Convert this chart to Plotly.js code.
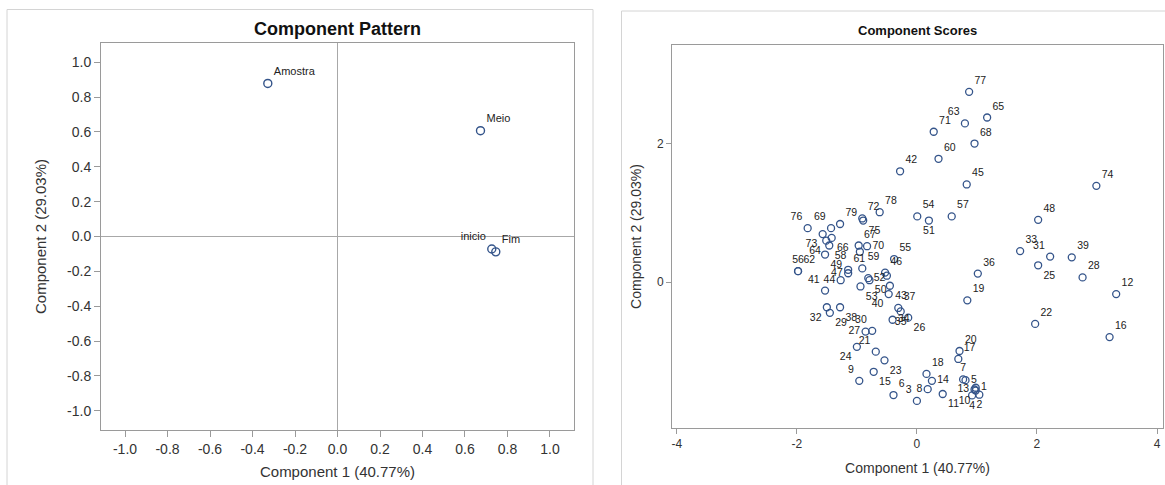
<!DOCTYPE html>
<html>
<head>
<meta charset="utf-8">
<script src="https://cdn.plot.ly/plotly-3.0.1.min.js"></script>
<style>html,body{margin:0;padding:0;background:#fff;}#chart{width:1165px;height:485px;}</style>
</head>
<body>
<div id="chart"></div>
<script>
// ---- Component Pattern (loadings) ----
const patternVars = ['Amostra', 'Meio', 'inicio', 'Fim'];
const patternC1 = [-0.328, 0.673, 0.726, 0.745];
const patternC2 = [0.878, 0.607, -0.072, -0.088];
const patternTicks = [-1.0, -0.8, -0.6, -0.4, -0.2, 0.0, 0.2, 0.4, 0.6, 0.8, 1.0];

// ---- Component Scores (observations) ----
const obsLabels = ['1','2','3','4','5','6','7','8','9','10',
  '11','12','13','14','15','16','17','18','19','20',
  '21','22','23','24','25','26','27','28','29','30',
  '31','32','33','34','35','36','37','38','39','40',
  '41','42','43','44','45','46','47','48','49','50',
  '51','52','53','54','55','56','57','58','59','60',
  '61','62','63','64','65','66','67','68','69','70',
  '71','72','73','74','75','76','77','78','79','',''];
const scoreC1 = [0.98, 1.04, 0.00, 0.92, 0.81, -0.39, 0.77, 0.18, -0.96, 0.98,
  0.43, 3.32, 0.96, 0.25, -0.72, 3.21, 0.69, 0.16, 0.84, 0.71,
  -0.685, 1.97, -0.54, -1.00, 2.02, -0.145, -0.855, 2.76, -1.45, -0.745,
  2.22, -1.50, 1.72, -0.405, -0.27, 1.015, -0.31, -1.28, 2.58, -0.47,
  -1.53, -0.28, -0.45, -1.27, 0.83, -0.53, -1.145, 2.02, -1.53, -0.79,
  0.20, -0.81, -0.94, 0.006, -0.38, -1.98, 0.58, -1.46, -0.91, 0.36,
  -1.145, -1.98, 0.80, -1.51, 1.17, -1.42, -0.97, 0.96, -1.43, -0.83,
  0.28, -0.91, -1.57, 2.99, -0.895, -1.82, 0.87, -0.62, -1.28, -0.95, -0.50];
const scoreC2 = [-1.52, -1.62, -1.71, -1.63, -1.41, -1.625, -1.40, -1.54, -1.42, -1.56,
  -1.61, -0.17, -1.545, -1.42, -1.29, -0.79, -1.105, -1.32, -0.26, -0.99,
  -1.00, -0.60, -1.125, -0.93, 0.245, -0.51, -0.71, 0.07, -0.44, -0.70,
  0.37, -0.36, 0.45, -0.54, -0.42, 0.125, -0.37, -0.36, 0.36, -0.17,
  -0.12, 1.60, -0.05, 0.03, 1.41, 0.14, 0.13, 0.90, 0.40, 0.03,
  0.89, 0.06, -0.06, 0.95, 0.335, 0.16, 0.95, 0.53, 0.20, 1.78,
  0.18, 0.16, 2.29, 0.60, 2.375, 0.64, 0.53, 2.00, 0.78, 0.52,
  2.17, 0.92, 0.695, 1.39, 0.89, 0.78, 2.745, 1.01, 0.84, 0.44, 0.095];
const scoreTicksX = [-4, -2, 0, 2, 4];
const scoreTicksY = [0, 2];

// label placement (style only)
const scoreLabelPos = ['middle right','bottom center','top left','bottom center','middle right','top right','top center','middle left','top left','bottom left',
  'bottom right','top right','middle left','middle right','bottom right','top right','top right','top right','top right','top right',
  'top left','top right','bottom right','bottom left','bottom right','bottom right','middle left','top right','bottom right','top left',
  'top left','bottom left','top right','middle right','bottom center','top right','top right','bottom right','top right','bottom left',
  'top left','top right','bottom right','middle left','top right','top right','middle left','top right','bottom right','bottom right',
  'bottom center','middle right','bottom right','top right','top right','top center','top right','bottom right','top right','top right',
  'top right','top right','top left','bottom left','top right','bottom right','top right','top right','top left','middle right',
  'top right','top right','bottom left','top right','bottom right','top left','top right','top right','top right','top right','top right'];
const patternLabelPos = ['top right','top right','top left','top right'];

const W = 1165, H = 485;
const px = v => v / W;
const py = v => 1 - v / H;

const markerColor = '#34548a';
const frameColor = '#9a9a9a';
const arial = '"Liberation Sans", Arial, sans-serif';
const narrow = '"Liberation Sans Narrow", "Arial Narrow", "Liberation Sans", Arial, sans-serif';

const traces = [
  {
    type: 'scatter', mode: 'markers+text',
    x: patternC1, y: patternC2, text: patternVars,
    textposition: patternLabelPos,
    textfont: {family: arial, size: 11, color: '#222'},
    marker: {symbol: 'circle-open', size: 8, color: markerColor, line: {width: 1.4, color: markerColor}},
    xaxis: 'x', yaxis: 'y', hoverinfo: 'text'
  },
  {
    type: 'scatter', mode: 'markers+text',
    x: scoreC1, y: scoreC2, text: obsLabels,
    textposition: scoreLabelPos,
    textfont: {family: narrow, size: 10.5, color: '#222'},
    marker: {symbol: 'circle-open', size: 7, color: markerColor, line: {width: 1.3, color: markerColor}},
    xaxis: 'x2', yaxis: 'y2', hoverinfo: 'text', cliponaxis: false
  }
];

const layout = {
  width: W, height: H,
  margin: {l: 0, r: 0, t: 0, b: 0},
  paper_bgcolor: '#fff', plot_bgcolor: '#fff',
  showlegend: false,
  xaxis: {
    domain: [px(101), px(574)], range: [-1.113, 1.113],
    tickvals: patternTicks, ticktext: patternTicks.map(v => v.toFixed(1)),
    showgrid: false, zeroline: true, zerolinecolor: '#a8a8a8', zerolinewidth: 1,
    showline: true, linecolor: frameColor, linewidth: 1, mirror: true,
    ticks: 'outside', ticklen: 6, tickcolor: frameColor,
    tickfont: {family: arial, size: 14, color: '#333'},
    title: {text: 'Component 1 (40.77%)', font: {family: arial, size: 15, color: '#333'}, standoff: 10},
    anchor: 'y'
  },
  yaxis: {
    domain: [py(430), py(43)], range: [-1.11, 1.11],
    tickvals: patternTicks, ticktext: patternTicks.map(v => v.toFixed(1)),
    showgrid: false, zeroline: true, zerolinecolor: '#a8a8a8', zerolinewidth: 1,
    showline: true, linecolor: frameColor, linewidth: 1, mirror: true,
    ticks: 'outside', ticklen: 6, tickcolor: frameColor,
    tickfont: {family: arial, size: 14, color: '#333'},
    title: {text: 'Component 2 (29.03%)', font: {family: arial, size: 15, color: '#333'}, standoff: 16},
    anchor: 'x'
  },
  xaxis2: {
    domain: [px(672), px(1163)], range: [-4.08, 4.1],
    tickvals: scoreTicksX, ticktext: scoreTicksX.map(v => String(v)),
    showgrid: false, zeroline: false,
    showline: true, linecolor: frameColor, linewidth: 1, mirror: true,
    ticks: 'outside', ticklen: 5, tickcolor: frameColor,
    tickfont: {family: narrow, size: 12, color: '#333'},
    title: {text: 'Component 1 (40.77%)', font: {family: narrow, size: 14, color: '#333'}, standoff: 12},
    anchor: 'y2'
  },
  yaxis2: {
    domain: [py(428), py(45)], range: [-2.1, 3.42],
    tickvals: scoreTicksY, ticktext: scoreTicksY.map(v => String(v)),
    showgrid: false, zeroline: false,
    showline: true, linecolor: frameColor, linewidth: 1, mirror: true,
    ticks: 'outside', ticklen: 5, tickcolor: frameColor,
    tickfont: {family: narrow, size: 12, color: '#333'},
    title: {text: 'Component 2 (29.03%)', font: {family: narrow, size: 14, color: '#333'}, standoff: 12},
    anchor: 'x2'
  },
  shapes: [
    {type: 'rect', xref: 'paper', yref: 'paper', x0: px(7), x1: px(593), y0: -0.1, y1: py(9.5),
     line: {color: '#d4d4d4', width: 1}, fillcolor: 'rgba(0,0,0,0)', layer: 'below'},
    {type: 'rect', xref: 'paper', yref: 'paper', x0: px(621.5), x1: 1.1, y0: -0.1, y1: py(11),
     line: {color: '#d4d4d4', width: 1}, fillcolor: 'rgba(0,0,0,0)', layer: 'below'}
  ],
  annotations: [
    {text: '<b>Component Pattern</b>', xref: 'paper', yref: 'paper', x: px(337.5), y: py(29),
     xanchor: 'center', yanchor: 'middle', showarrow: false,
     font: {family: arial, size: 18, color: '#111'}},
    {text: '<b>Component Scores</b>', xref: 'paper', yref: 'paper', x: px(917), y: py(31),
     xanchor: 'center', yanchor: 'middle', showarrow: false,
     font: {family: narrow, size: 13, color: '#111'}}
  ]
};

Plotly.newPlot('chart', traces, layout, {staticPlot: true, displayModeBar: false});
</script>
</body>
</html>
